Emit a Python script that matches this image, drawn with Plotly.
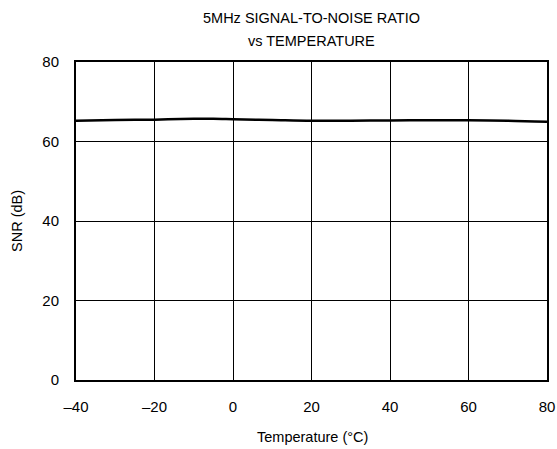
import plotly.graph_objects as go

temperature = [-40, -30, -20, -10, -5, 0, 10, 20, 30, 40, 50, 60, 70, 80]
snr_db = [65.2, 65.4, 65.5, 65.7, 65.7, 65.6, 65.4, 65.2, 65.25, 65.3, 65.35, 65.35, 65.25, 65.0]

x_ticks = [-40, -20, 0, 20, 40, 60, 80]
x_tick_labels = ["–40", "–20", "0", "20", "40", "60", "80"]
y_ticks = [0, 20, 40, 60, 80]
y_tick_labels = ["0", "20", "40", "60", "80"]

font = "Liberation Sans, Arial, sans-serif"
W, H = 557, 449
L, R, T, B = 76, 10, 62, 69

fig = go.Figure()
fig.add_trace(go.Scatter(x=temperature, y=snr_db, mode="lines",
                         line=dict(color="black", width=2.5, shape="spline"),
                         showlegend=False))

def px_x(p):
    return (p - L) / (W - L - R)

def px_y(p):
    return (H - B - p) / (H - T - B)

annotations = [
    dict(text="5MHz SIGNAL-TO-NOISE RATIO", x=px_x(311), y=px_y(18)),
    dict(text="vs TEMPERATURE", x=px_x(311), y=px_y(41)),
    dict(text="Temperature (°C)", x=px_x(312), y=px_y(437)),
]
ann = []
for a in annotations:
    ann.append(dict(text=a["text"], x=a["x"], y=a["y"], xref="paper", yref="paper",
                    xanchor="center", yanchor="middle", showarrow=False,
                    font=dict(family=font, size=14.5, color="black")))
ann.append(dict(text="SNR (dB)", x=px_x(17), y=px_y(221), xref="paper", yref="paper",
                xanchor="center", yanchor="middle", showarrow=False, textangle=-90,
                font=dict(family=font, size=14.5, color="black")))

fig.update_layout(
    width=W, height=H,
    margin=dict(l=L, r=R, t=T, b=B, autoexpand=False),
    paper_bgcolor="white", plot_bgcolor="white",
    font=dict(family=font, size=15, color="black"),
    annotations=ann,
)
fig.update_xaxes(range=[-40, 80], tickvals=x_ticks, ticktext=x_tick_labels,
                 showgrid=True, gridcolor="black", gridwidth=1,
                 showline=True, linecolor="black", linewidth=2, mirror=True,
                 ticks="outside", ticklen=12, tickcolor="rgba(0,0,0,0)", zeroline=False,
                 automargin=False, tickfont=dict(family=font, size=15))
fig.update_yaxes(range=[0, 80], tickvals=y_ticks, ticktext=y_tick_labels,
                 showgrid=True, gridcolor="black", gridwidth=1,
                 showline=True, linecolor="black", linewidth=2, mirror=True,
                 ticks="outside", ticklen=12, tickcolor="rgba(0,0,0,0)", zeroline=False,
                 automargin=False, tickfont=dict(family=font, size=15))

fig.write_html("out.html")
